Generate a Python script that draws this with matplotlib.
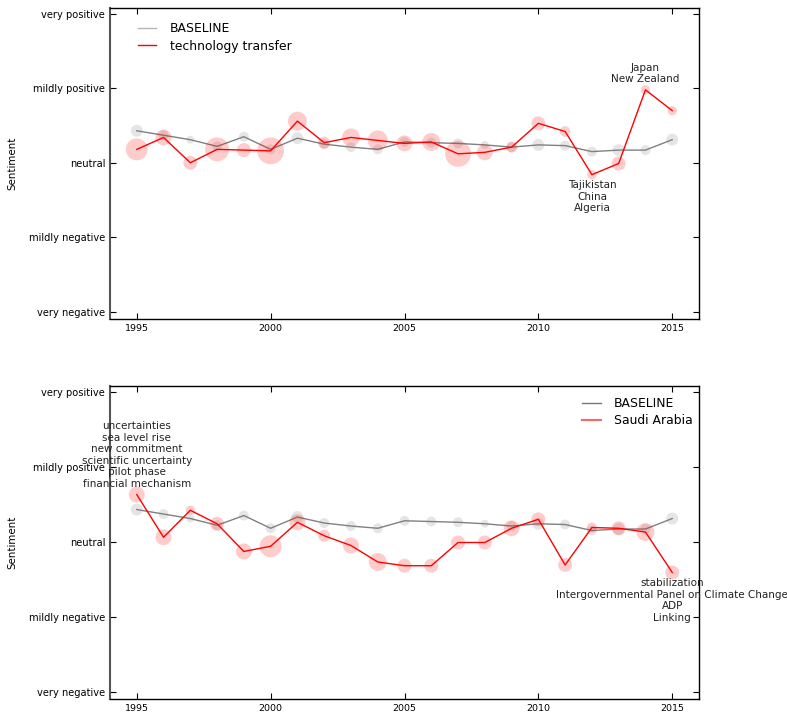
import numpy as np
import matplotlib
matplotlib.use("Agg")
import matplotlib.pyplot as plt
from matplotlib.lines import Line2D

years = np.arange(1995, 2016)

# baseline sentiment (all documents) and its document counts
baseline = [0.43, 0.37, 0.31, 0.22, 0.35, 0.18, 0.33, 0.25, 0.21, 0.18, 0.28,
            0.27, 0.26, 0.24, 0.21, 0.24, 0.23, 0.15, 0.17, 0.17, 0.31]
baseline_n = [36, 25, 16, 25, 25, 25, 36, 25, 25, 25, 25,
              25, 25, 16, 25, 36, 25, 25, 36, 25, 36]

# topic: technology transfer
tech = [0.18, 0.34, 0.00, 0.18, 0.17, 0.16, 0.56, 0.27, 0.34, 0.30, 0.26,
        0.28, 0.12, 0.14, 0.21, 0.53, 0.42, -0.16, -0.01, 0.98, 0.70]
tech_n = [121, 64, 49, 144, 49, 180, 90, 36, 81, 100, 64,
          81, 169, 64, 30, 49, 28, 22, 49, 22, 22]

# country: Saudi Arabia
saudi = [0.63, 0.06, 0.42, 0.24, -0.13, -0.06, 0.26, 0.08, -0.05, -0.27, -0.32,
         -0.32, -0.01, -0.01, 0.18, 0.30, -0.31, 0.19, 0.18, 0.13, -0.41]
saudi_n = [64, 64, 22, 49, 64, 121, 64, 36, 64, 81, 49,
           49, 49, 49, 64, 49, 49, 25, 49, 81, 49]

sent_ticks = [-2, -1, 0, 1, 2]
sent_labels = ['very negative', 'mildly negative', 'neutral',
               'mildly positive', 'very positive']

top_notes = [(2014, 'Japan\nNew Zealand', 'above'),
             (2012, 'Tajikistan\nChina\nAlgeria', 'below')]
bottom_notes = [(1995, 'uncertainties\nsea level rise\nnew commitment\n'
                       'scientific uncertainty\npilot phase\nfinancial mechanism', 'above'),
                (2015, 'stabilization\nIntergovernmental Panel on Climate Change\n'
                       'ADP\nLinking', 'below')]

fig = plt.figure(figsize=(7.87, 7.14), dpi=100)
ax1 = fig.add_axes([110 / 787, 1 - 319 / 714, 589 / 787, 311 / 714])
ax2 = fig.add_axes([110 / 787, 1 - 699 / 714, 589 / 787, 313 / 714])

SCALE = 2.07


def draw(ax, vals, counts, notes):
    ax.scatter(years, baseline, s=np.array(baseline_n) * SCALE, color='gray',
               alpha=0.2, lw=0, zorder=1)
    ax.plot(years, baseline, color='gray', lw=1, zorder=2)
    ax.scatter(years, vals, s=np.array(counts) * SCALE, color='red',
               alpha=0.2, lw=0, zorder=3)
    ax.plot(years, vals, color='red', lw=1, zorder=4)

    for yr, txt, where in notes:
        v = vals[list(years).index(yr)]
        if where == 'above':
            ax.annotate(txt, (yr, v), xytext=(0, 4), textcoords='offset points',
                        ha='center', va='bottom', fontsize=7.5, color='#222222',
                        annotation_clip=False)
        else:
            ax.annotate(txt, (yr, v), xytext=(0, -4), textcoords='offset points',
                        ha='center', va='top', fontsize=7.5, color='#222222',
                        annotation_clip=False)

    ax.set_xlim(1994, 2016)
    ax.set_ylim(-2.1, 2.08)
    ax.set_xticks([1995, 2000, 2005, 2010, 2015])
    ax.set_yticks(sent_ticks)
    ax.set_yticklabels(sent_labels)
    ax.tick_params(axis='y', labelsize=7.1, direction='in', left=True, right=True,
                   length=4, width=0.8)
    ax.tick_params(axis='x', labelsize=6.8, direction='in', bottom=True, top=True,
                   length=4, width=0.8)
    ax.set_ylabel('Sentiment', fontsize=7.4, labelpad=8)
    for sp in ax.spines.values():
        sp.set_linewidth(1)
    ax.spines['left'].set_color('#555555')
    ax.spines['left'].set_linewidth(1.5)


draw(ax1, tech, tech_n, top_notes)
draw(ax2, saudi, saudi_n, bottom_notes)

h1 = [Line2D([], [], color='#b5b5b5', lw=1), Line2D([], [], color='red', lw=1)]
ax1.legend(h1, ['BASELINE', 'technology transfer'], loc='upper left',
           frameon=False, fontsize=8.9, bbox_to_anchor=(0.028, 0.99),
           handlelength=1.5, handletextpad=1.1, labelspacing=0.35)

h2 = [Line2D([], [], color='#777777', lw=1), Line2D([], [], color='#ff6666', lw=1.5)]
ax2.legend(h2, ['BASELINE', 'Saudi Arabia'], loc='upper right',
           frameon=False, fontsize=8.9, bbox_to_anchor=(1.0085, 1.0),
           handlelength=1.5, handletextpad=1.1, labelspacing=0.35)

fig.savefig('out.png', dpi=100)
